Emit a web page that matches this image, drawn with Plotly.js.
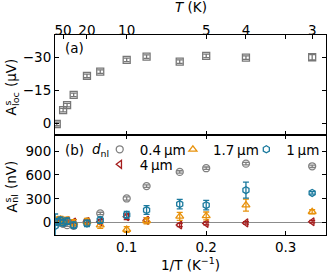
<!DOCTYPE html>
<html>
<head>
<meta charset="utf-8">
<script src="https://cdn.plot.ly/plotly-3.0.1.min.js"></script>
<style>html,body{margin:0;padding:0;background:#fff;}#chart{width:327px;height:276px;}</style>
</head>
<body>
<div id="chart"></div>
<script>
// ---- data ----
var invT_a = [0.012, 0.02, 0.025, 0.0333, 0.05, 0.0667, 0.1, 0.125, 0.1667, 0.2, 0.25, 0.3333];
var Aloc = [0.3, -6.0, -8.3, -12.9, -21.5, -23.5, -28.8, -30.3, -28.0, -30.6, -29.8, -30.0];
var Aloc_err = [0.8, 0.8, 0.8, 0.8, 0.8, 0.8, 0.8, 0.8, 0.8, 0.8, 0.8, 1.2];

var invT_b = [0.0125, 0.0167, 0.02, 0.025, 0.0333, 0.05, 0.0667, 0.1, 0.125, 0.1667, 0.2, 0.25, 0.3333];
var nl_04 = [10, 0, -15, -30, -40, 15, 117, 305, 460, 638, 685, 742, 709];
var nl_04_err = [15, 15, 15, 15, 15, 15, 15, 20, 15, 15, 15, 15, 15];
var nl_4 = [20, 30, 10, 25, 10, 15, 13, 75, 30, -29, -8, -2, 13];
var nl_4_err = [40, 40, 30, 30, 30, 30, 30, 35, 30, 20, 20, 15, 15];
var nl_17 = [30, 40, 20, 30, 0, 13, -30, -85, 25, 80, 85, 221, 138];
var nl_17_err = [40, 40, 40, 40, 40, 40, 40, 35, 40, 50, 50, 75, 25];
var invT_b1 = [0.01, 0.0125, 0.0167, 0.02, 0.025, 0.0333, 0.05, 0.0667, 0.1, 0.125, 0.1667, 0.2, 0.25, 0.3333];
var nl_1 = [-40, 10, 30, 0, 20, -30, -8, 33, 100, 159, 234, 221, 409, 375];
var nl_1_err = [150, 40, 40, 40, 40, 40, 40, 40, 42, 55, 60, 60, 100, 15];

var xTicks = [0.1, 0.2, 0.3];
var xTickText = ['0.1', '0.2', '0.3'];
var T_ticks = [50, 20, 10, 5, 4, 3];
var yTicks_a = [0, -15, -30];
var yTicks_b = [0, 300, 600, 900];
var labels = ['0.4\u2009µm', '4\u2009µm', '1.7\u2009µm', '1\u2009µm'];

// ---- styling ----
var cGray = '#808080', cRed = '#a51d1d', cOrange = '#e8920c', cTeal = '#1b7a9e';
var FONT = 'DejaVu Sans, Liberation Sans, sans-serif';
var xRange = [0.0098, 0.3507];

function errTrace(x, y, err, color, symbol, name, legendId, xa, ya, show) {
  return {
    x: x, y: y, type: 'scatter', mode: 'markers', name: name,
    xaxis: xa, yaxis: ya, showlegend: show, legend: legendId,
    marker: {symbol: symbol, size: 7, color: color, line: {color: color, width: 1.3}},
    error_y: {type: 'data', array: err, visible: true, color: color, thickness: 1.3, width: 3},
    cliponaxis: true
  };
}

var traces = [
  errTrace(invT_a, Aloc, Aloc_err, '#777777', 'square-open', 'Aloc', 'legend', 'x2', 'y2', false),
  errTrace(invT_b, nl_04, nl_04_err, cGray, 'circle-open', labels[0], 'legend', 'x', 'y', true),
  errTrace(invT_b, nl_4, nl_4_err, cRed, 'triangle-left-open', labels[1], 'legend4', 'x', 'y', true),
  errTrace(invT_b, nl_17, nl_17_err, cOrange, 'triangle-up-open', labels[2], 'legend2', 'x', 'y', true),
  errTrace(invT_b1, nl_1, nl_1_err, cTeal, 'hexagon-open', labels[3], 'legend3', 'x', 'y', true)
];
// dummy trace to activate the top T axis
traces.push({x: [], y: [], xaxis: 'x3', yaxis: 'y2', type: 'scatter', showlegend: false});

var axBase = {
  showline: true, linecolor: 'black', linewidth: 1, ticks: 'inside', ticklen: 4,
  tickcolor: 'black', tickwidth: 1, showgrid: false, zeroline: false,
  tickfont: {family: FONT, size: 13.5, color: 'black'}
};
function ax(o) { return Object.assign({}, axBase, o); }
function leg(x, y) {
  return {x: x, y: y, xanchor: 'left', yanchor: 'top', orientation: 'v',
    bgcolor: 'rgba(0,0,0,0)', borderwidth: 0, font: {family: FONT, size: 13.5}, itemwidth: 30};
}
// rotated text piece for stacked-script y titles
function vt(text, px, py, size) {
  return {text: text, xref: 'paper', yref: 'paper', x: (px - 55) / 271, y: (235 - py) / 200,
    xanchor: 'center', yanchor: 'middle', textangle: -90, showarrow: false,
    font: {family: FONT, size: size, color: 'black'}};
}

var layout = {
  width: 327, height: 276,
  margin: {l: 55, r: 1, t: 35, b: 41, pad: 0},
  paper_bgcolor: 'white', plot_bgcolor: 'white',
  font: {family: FONT, size: 13.5, color: 'black'},
  showlegend: true,
  xaxis: ax({domain: [0, 1], anchor: 'y', range: xRange, tickmode: 'array', tickvals: xTicks, ticktext: xTickText,
    mirror: 'ticks',
    title: {text: '1/T (K<sup>−1</sup>)', font: {family: FONT, size: 13.5}, standoff: 4}}),
  yaxis: ax({domain: [0, 0.5], anchor: 'x', range: [-154, 1102], tickmode: 'array', tickvals: yTicks_b,
    mirror: 'ticks', zeroline: true, zerolinecolor: '#8c8c8c', zerolinewidth: 1.5}),
  xaxis2: ax({domain: [0, 1], anchor: 'y2', range: xRange, tickmode: 'array', tickvals: xTicks,
    showticklabels: false, mirror: 'ticks'}),
  yaxis2: ax({domain: [0.5, 1], anchor: 'x2', range: [5.3, -40.1], tickmode: 'array', tickvals: yTicks_a,
    mirror: 'ticks'}),
  xaxis3: ax({overlaying: 'x2', anchor: 'y2', side: 'top', range: xRange, tickmode: 'array',
    tickvals: T_ticks.map(function (t) { return 1 / t; }), ticktext: T_ticks.map(String),
    showline: false, ticklabelstandoff: -4}),
  legend: leg(0.165, 0.505),
  legend2: leg(0.435, 0.505),
  legend3: leg(0.706, 0.505),
  legend4: leg(0.165, 0.43),
  annotations: [
    {text: '<i>T</i> (K)', xref: 'paper', yref: 'paper', x: 0.5, y: 1.14, xanchor: 'center', yanchor: 'middle', showarrow: false, font: {family: FONT, size: 13.5}},
    {text: '(a)', xref: 'paper', yref: 'paper', x: 0.03, y: 0.935, xanchor: 'left', yanchor: 'middle', showarrow: false, font: {family: FONT, size: 13.5}},
    {text: '(b)', xref: 'paper', yref: 'paper', x: 0.03, y: 0.425, xanchor: 'left', yanchor: 'middle', showarrow: false, font: {family: FONT, size: 13.5}},
    {text: '<i>d</i><sub>nl</sub>', xref: 'paper', yref: 'paper', x: 0.13, y: 0.425, xanchor: 'left', yanchor: 'middle', showarrow: false, font: {family: FONT, size: 13.5}},
    // top y title: A^s_loc (µV)
    vt('A', 11, 110.5, 13.5), vt('s', 7, 103.5, 9.5), vt('loc', 15, 99, 9.5), vt('(µV)', 11, 73, 13.5),
    // bottom y title: A^s_nl (nV)
    vt('A', 11, 207.5, 13.5), vt('s', 7, 200.5, 9.5), vt('nl', 15, 198.7, 9.5), vt('(nV)', 11, 175, 13.5)
  ]
};

Plotly.newPlot('chart', traces, layout, {displayModeBar: false, staticPlot: true});
</script>
</body>
</html>
